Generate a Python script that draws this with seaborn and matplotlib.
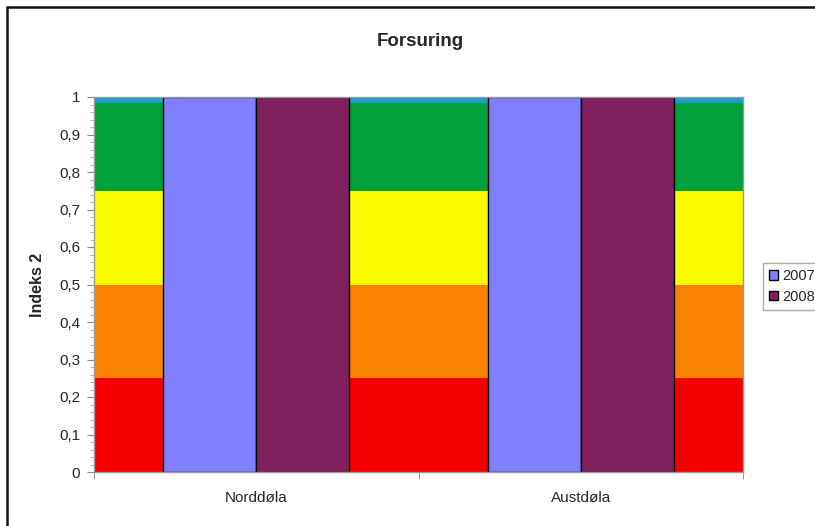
import matplotlib
matplotlib.use("Agg")
import matplotlib.pyplot as plt
from matplotlib.patches import Rectangle
from matplotlib.ticker import MultipleLocator, FixedLocator
import pandas as pd
import seaborn as sns

# Data
rivers = ["Norddøla", "Austdøla"]
years = ["2007", "2008"]
index2_2007 = [1.0, 1.0]
index2_2008 = [1.0, 1.0]

# Class limits for the background condition bands
band_limits = [0.0, 0.25, 0.5, 0.75, 0.985, 1.0]
band_colors = ["#F50000", "#FB8200", "#FAFA00", "#00A03C", "#1E9CCF"]

year_colors = {"2007": "#8080FF", "2008": "#80205F"}

df = pd.DataFrame({
    "Elv": rivers * 2,
    "År": [years[0]] * 2 + [years[1]] * 2,
    "Indeks 2": index2_2007 + index2_2008,
})

sns.set_style("white")
plt.rcParams["font.family"] = ["Liberation Sans", "DejaVu Sans"]

fig = plt.figure(figsize=(8.15, 5.26), dpi=100)
ax = fig.add_axes([94 / 815, 54 / 526, 649 / 815, 375 / 526])

# Outer chart frame
fig.patches.append(Rectangle((7 / 815, -0.2), 1.2, (519 / 526) + 0.2,
                             transform=fig.transFigure, fill=False,
                             edgecolor="#111111", linewidth=1.8))

for lo, hi, col in zip(band_limits[:-1], band_limits[1:], band_colors):
    ax.axhspan(lo, hi, color=col, zorder=0, linewidth=0)

sns.barplot(data=df, x="Elv", y="Indeks 2", hue="År", palette=year_colors,
            width=0.574, edgecolor="black", linewidth=1.0, ax=ax,
            saturation=1, zorder=2, legend=True)

ax.set_xlim(-0.5, 1.5)
ax.set_ylim(0, 1)

yt = [i / 10 for i in range(11)]
ax.set_yticks(yt)
ax.set_yticklabels([("%g" % v).replace(".", ",") for v in yt], fontsize=11)
ax.yaxis.set_minor_locator(MultipleLocator(0.02))
ax.xaxis.set_minor_locator(FixedLocator([-0.5, 0.5, 1.5]))
ax.tick_params(axis="x", which="major", length=0, pad=14, labelsize=11)
ax.tick_params(axis="x", which="minor", length=5, color="#888888", direction="out", bottom=True)
ax.tick_params(axis="y", which="major", length=5, color="#888888", direction="out", left=True, pad=5)
ax.tick_params(axis="y", which="minor", length=3, color="#aaaaaa", direction="out", left=True)

for s in ax.spines.values():
    s.set_color("#999999")
    s.set_linewidth(1.0)
    s.set_visible(True)

ax.set_xlabel("")
ax.set_ylabel("Indeks 2", fontsize=11.5, fontweight="bold", labelpad=10)
fig.text(420 / 815, 1 - 42 / 526, "Forsuring", ha="center", va="center",
         fontsize=13.5, fontweight="bold")

handles, labels = ax.get_legend_handles_labels()
ax.legend(handles, labels, loc="upper left", bbox_to_anchor=(756 / 815, 1 - 256 / 526),
          bbox_transform=fig.transFigure, frameon=True, fancybox=False,
          edgecolor="#999999", fontsize=10.5, handlelength=0.6, handleheight=0.6,
          handletextpad=0.3, labelspacing=0.45, borderpad=0.4, title=None)

fig.savefig("out.png", dpi=100)
